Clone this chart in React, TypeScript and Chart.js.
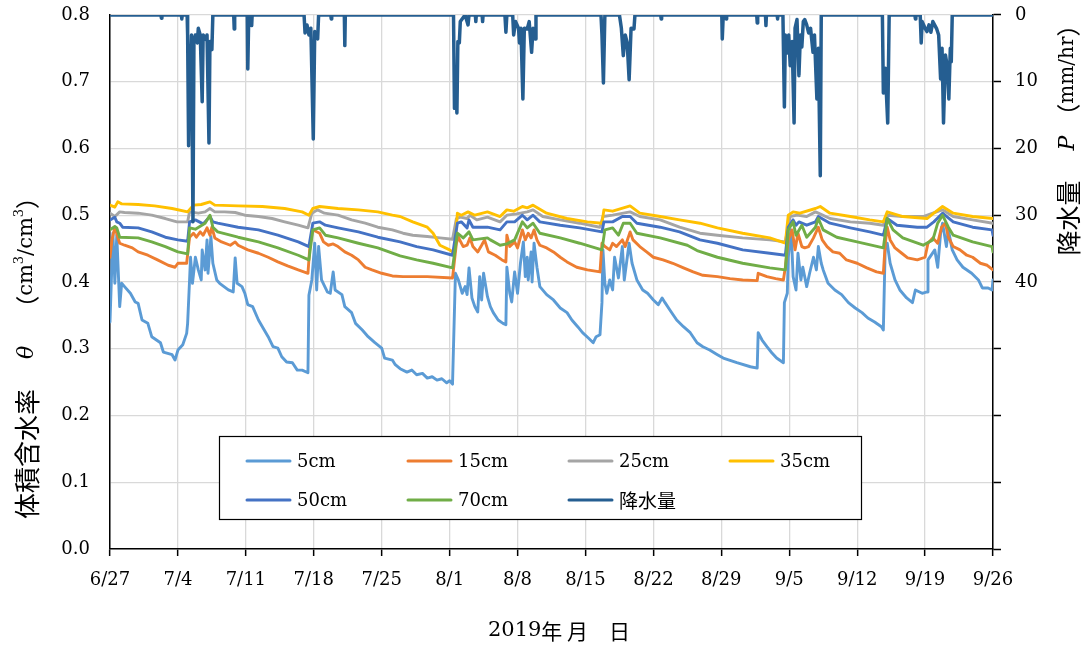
import React, { useEffect, useRef } from "react";
import { Chart, registerables } from "chart.js";
Chart.register(...registerables);

// Day 0 = 2019/6/27
const dateLabels = ["6/27", "7/4", "7/11", "7/18", "7/25", "8/1", "8/8", "8/15", "8/22", "8/29", "9/5", "9/12", "9/19", "9/26"];

const s5cm: [number, number][] = [
  [0, 0.340], [0.3, 0.473], [0.5, 0.398], [0.7, 0.470], [1.0, 0.363], [1.2, 0.398], [1.5, 0.393], [2.1, 0.383], [2.6, 0.370], [2.9, 0.368],
  [3.3, 0.343], [3.9, 0.338], [4.3, 0.318], [5.2, 0.309], [5.5, 0.295], [6.4, 0.291], [6.7, 0.283], [7.0, 0.298], [7.5, 0.306], [7.9, 0.323],
  [8.0, 0.338], [8.2, 0.403], [8.3, 0.437], [8.5, 0.398], [8.8, 0.437], [9.1, 0.418], [9.4, 0.403], [9.5, 0.448], [9.8, 0.418], [10.0, 0.463],
  [10.1, 0.413], [10.4, 0.468], [10.6, 0.428], [11.0, 0.403], [11.3, 0.398], [12.2, 0.388], [12.7, 0.385], [12.9, 0.436], [13.1, 0.398], [13.6, 0.393],
  [13.9, 0.383], [14.2, 0.366], [14.7, 0.363], [15.3, 0.343], [15.7, 0.333], [16.3, 0.318], [16.8, 0.303], [17.3, 0.301], [17.7, 0.288], [18.2, 0.280],
  [18.8, 0.279], [19.3, 0.268], [19.8, 0.268], [20.4, 0.264], [20.5, 0.380], [20.8, 0.403], [21.1, 0.458], [21.3, 0.388], [21.5, 0.453], [21.8, 0.403],
  [22.4, 0.385], [22.7, 0.383], [23.0, 0.415], [23.2, 0.388], [23.9, 0.381], [24.2, 0.363], [24.9, 0.354], [25.3, 0.338], [26.0, 0.328], [26.6, 0.318],
  [27.3, 0.309], [28.0, 0.301], [28.3, 0.286], [29.1, 0.283], [29.4, 0.276], [29.9, 0.270], [30.6, 0.265], [31.1, 0.268], [31.6, 0.261], [32.2, 0.263],
  [32.7, 0.256], [33.2, 0.258], [33.7, 0.253], [34.2, 0.255], [34.7, 0.249], [35.0, 0.252], [35.3, 0.247], [35.6, 0.413], [35.9, 0.403], [36.3, 0.383],
  [36.6, 0.393], [36.8, 0.381], [37.0, 0.421], [37.3, 0.376], [37.6, 0.363], [37.9, 0.355], [38.1, 0.408], [38.3, 0.373], [38.5, 0.413], [38.9, 0.378],
  [39.2, 0.363], [39.5, 0.354], [40.0, 0.343], [40.5, 0.338], [40.8, 0.336], [40.9, 0.422], [41.2, 0.383], [41.4, 0.370], [41.7, 0.415], [42.0, 0.383],
  [42.3, 0.428], [42.6, 0.460], [42.8, 0.408], [43.0, 0.437], [43.1, 0.403], [43.4, 0.445], [43.5, 0.400], [43.7, 0.458], [44.0, 0.422], [44.3, 0.393],
  [45.0, 0.381], [45.7, 0.373], [46.4, 0.361], [47.1, 0.354], [47.6, 0.343], [48.2, 0.333], [48.7, 0.324], [49.3, 0.316], [49.8, 0.309], [50.1, 0.318],
  [50.5, 0.321], [50.7, 0.369], [50.8, 0.448], [51.0, 0.398], [51.2, 0.383], [51.5, 0.403], [51.8, 0.388], [52.0, 0.437], [52.4, 0.406], [52.8, 0.453],
  [53.0, 0.403], [53.5, 0.458], [53.8, 0.428], [54.3, 0.403], [54.9, 0.388], [55.4, 0.383], [56.0, 0.373], [56.5, 0.366], [56.9, 0.376], [57.2, 0.369],
  [57.7, 0.358], [58.4, 0.343], [59.1, 0.333], [59.8, 0.324], [60.5, 0.309], [61.1, 0.303], [61.8, 0.298], [62.6, 0.291], [63.2, 0.286], [64.6, 0.279],
  [66.0, 0.273], [66.7, 0.271], [66.8, 0.324], [67.2, 0.313], [67.7, 0.303], [68.2, 0.294], [68.7, 0.286], [69.4, 0.279], [69.5, 0.369], [69.8, 0.383],
  [69.9, 0.437], [70.2, 0.478], [70.4, 0.408], [70.7, 0.388], [70.9, 0.443], [71.2, 0.403], [71.4, 0.422], [71.8, 0.393], [72.1, 0.413], [72.5, 0.437],
  [72.8, 0.418], [73.0, 0.453], [73.3, 0.428], [73.5, 0.418], [74.0, 0.398], [74.7, 0.388], [75.4, 0.381], [76.1, 0.369], [76.8, 0.361], [77.5, 0.354],
  [78.1, 0.346], [78.8, 0.340], [79.5, 0.333], [79.7, 0.328], [79.9, 0.458], [80.1, 0.458], [80.4, 0.428], [80.9, 0.403], [81.4, 0.388], [82.1, 0.376],
  [82.7, 0.369], [83.0, 0.388], [83.7, 0.383], [84.2, 0.385], [84.3, 0.433], [85.0, 0.448], [85.3, 0.422], [85.6, 0.473], [85.8, 0.488], [86.2, 0.453],
  [86.4, 0.478], [86.8, 0.448], [87.3, 0.433], [87.9, 0.422], [88.8, 0.413], [89.5, 0.403], [89.9, 0.391], [90.5, 0.391], [90.9, 0.388], [91.0, 0.403],
];

const s15cm: [number, number][] = [
  [0, 0.437], [0.2, 0.463], [0.5, 0.482], [0.8, 0.467], [1.0, 0.458], [1.5, 0.455], [2.3, 0.451], [2.9, 0.445], [3.9, 0.440], [4.9, 0.433],
  [6.0, 0.425], [6.7, 0.422], [7.0, 0.428], [7.9, 0.428], [8.2, 0.467], [8.6, 0.473], [8.9, 0.467], [9.3, 0.475], [9.6, 0.470], [10.0, 0.481],
  [10.3, 0.470], [10.5, 0.482], [10.8, 0.466], [11.5, 0.460], [12.4, 0.455], [12.9, 0.460], [13.2, 0.455], [14.2, 0.448], [15.3, 0.443], [16.3, 0.437],
  [17.3, 0.430], [18.3, 0.424], [19.4, 0.418], [20.4, 0.413], [20.6, 0.453], [20.9, 0.478], [21.2, 0.476], [21.6, 0.473], [22.0, 0.460], [22.5, 0.455],
  [23.0, 0.457], [23.5, 0.453], [24.2, 0.445], [24.9, 0.440], [25.6, 0.433], [26.3, 0.422], [27.0, 0.418], [28.0, 0.413], [29.1, 0.409], [30.2, 0.408],
  [32.7, 0.408], [35.3, 0.406], [35.7, 0.458], [35.9, 0.467], [36.4, 0.453], [36.8, 0.455], [37.1, 0.466], [37.4, 0.453], [37.9, 0.445], [38.3, 0.455],
  [38.6, 0.463], [39.0, 0.445], [39.7, 0.440], [40.4, 0.433], [40.8, 0.430], [40.9, 0.470], [41.2, 0.453], [41.7, 0.460], [42.0, 0.451], [42.5, 0.478],
  [42.8, 0.463], [43.1, 0.473], [43.4, 0.466], [43.7, 0.478], [44.0, 0.463], [44.3, 0.455], [45.0, 0.451], [45.7, 0.445], [46.4, 0.437], [47.1, 0.430],
  [48.1, 0.422], [49.2, 0.418], [50.5, 0.415], [50.7, 0.458], [51.0, 0.453], [51.5, 0.448], [51.8, 0.458], [52.2, 0.453], [52.8, 0.463], [53.1, 0.453],
  [53.6, 0.475], [53.9, 0.463], [54.6, 0.453], [55.3, 0.445], [56.0, 0.437], [57.0, 0.433], [58.0, 0.428], [59.1, 0.421], [60.1, 0.415], [61.1, 0.410],
  [62.6, 0.408], [63.9, 0.405], [65.2, 0.403], [66.7, 0.402], [66.8, 0.413], [67.7, 0.408], [68.6, 0.405], [69.4, 0.403], [69.6, 0.422], [69.9, 0.463],
  [70.3, 0.478], [70.6, 0.448], [70.9, 0.473], [71.3, 0.453], [71.6, 0.451], [72.0, 0.453], [72.5, 0.466], [73.0, 0.482], [73.4, 0.463], [73.9, 0.453],
  [74.5, 0.445], [75.2, 0.443], [75.9, 0.433], [77.0, 0.428], [78.0, 0.421], [79.0, 0.415], [79.7, 0.413], [79.9, 0.458], [80.1, 0.482], [80.4, 0.463],
  [80.9, 0.451], [81.6, 0.443], [82.2, 0.436], [83.2, 0.433], [84.0, 0.437], [84.3, 0.458], [84.8, 0.466], [85.3, 0.458], [85.7, 0.482], [86.1, 0.488],
  [86.4, 0.467], [86.9, 0.453], [87.6, 0.448], [88.3, 0.440], [88.9, 0.437], [89.7, 0.428], [90.4, 0.425], [91.0, 0.418],
];

const s25cm: [number, number][] = [
  [0, 0.503], [0.5, 0.498], [1.0, 0.505], [1.5, 0.504], [2.9, 0.503], [4.3, 0.500], [5.7, 0.495], [6.9, 0.490], [8.0, 0.490], [8.2, 0.505],
  [9.1, 0.503], [9.8, 0.505], [10.3, 0.510], [10.8, 0.505], [11.8, 0.505], [12.9, 0.504], [13.9, 0.500], [15.3, 0.498], [16.7, 0.495], [18.0, 0.490],
  [19.4, 0.485], [20.4, 0.481], [20.8, 0.503], [21.4, 0.508], [22.1, 0.503], [23.5, 0.500], [24.9, 0.493], [26.3, 0.488], [27.6, 0.482], [29.1, 0.478],
  [30.2, 0.473], [31.2, 0.470], [32.7, 0.468], [34.0, 0.466], [35.3, 0.464], [35.7, 0.495], [36.1, 0.497], [36.8, 0.495], [37.1, 0.500], [37.8, 0.493],
  [38.9, 0.497], [40.2, 0.490], [40.9, 0.500], [41.9, 0.502], [43.0, 0.505], [43.6, 0.508], [44.6, 0.498], [46.4, 0.493], [48.4, 0.488], [50.5, 0.482],
  [50.8, 0.498], [51.8, 0.500], [53.6, 0.505], [54.6, 0.498], [56.7, 0.493], [58.7, 0.482], [60.8, 0.473], [62.6, 0.470], [65.2, 0.466], [68.0, 0.463],
  [69.6, 0.460], [70.1, 0.498], [70.8, 0.500], [71.8, 0.498], [72.7, 0.505], [73.0, 0.503], [74.2, 0.495], [76.3, 0.490], [78.3, 0.488], [79.7, 0.485],
  [80.1, 0.500], [81.7, 0.498], [83.8, 0.498], [84.8, 0.503], [85.8, 0.508], [86.9, 0.498], [88.9, 0.493], [91.0, 0.488],
];

const s35cm: [number, number][] = [
  [0, 0.515], [0.5, 0.512], [0.8, 0.520], [1.2, 0.517], [2.9, 0.516], [4.6, 0.514], [6.4, 0.510], [8.0, 0.505], [8.6, 0.515], [9.4, 0.516],
  [10.3, 0.520], [10.8, 0.515], [13.2, 0.514], [15.7, 0.513], [18.0, 0.510], [19.8, 0.505], [20.5, 0.500], [20.9, 0.510], [21.6, 0.513], [23.5, 0.510],
  [25.6, 0.508], [27.6, 0.505], [29.1, 0.500], [29.9, 0.498], [31.2, 0.490], [32.7, 0.482], [33.3, 0.473], [34.0, 0.455], [35.0, 0.448], [35.5, 0.443],
  [35.8, 0.503], [36.2, 0.500], [36.9, 0.505], [37.6, 0.500], [38.9, 0.505], [40.2, 0.498], [40.9, 0.508], [41.6, 0.506], [42.5, 0.513], [43.0, 0.511],
  [43.6, 0.515], [45.0, 0.503], [47.1, 0.495], [49.2, 0.490], [50.7, 0.488], [50.9, 0.508], [51.8, 0.506], [53.6, 0.514], [54.6, 0.503], [56.7, 0.498],
  [58.7, 0.493], [60.8, 0.488], [62.6, 0.481], [65.2, 0.473], [68.0, 0.466], [69.6, 0.458], [69.9, 0.500], [70.4, 0.505], [71.1, 0.503], [72.7, 0.510],
  [73.2, 0.513], [74.2, 0.503], [76.3, 0.498], [78.3, 0.493], [79.7, 0.490], [80.1, 0.505], [81.7, 0.498], [84.2, 0.495], [84.9, 0.503], [85.8, 0.513],
  [86.9, 0.503], [88.9, 0.498], [91.0, 0.495],
];

const s50cm: [number, number][] = [
  [0, 0.493], [0.5, 0.497], [0.7, 0.490], [1.0, 0.488], [1.3, 0.482], [2.9, 0.481], [4.3, 0.475], [5.7, 0.467], [7.0, 0.463], [8.0, 0.461],
  [8.2, 0.490], [8.8, 0.493], [9.6, 0.487], [10.3, 0.498], [10.6, 0.490], [11.1, 0.488], [13.2, 0.482], [15.3, 0.478], [17.3, 0.470], [19.4, 0.460],
  [20.5, 0.453], [20.9, 0.488], [21.6, 0.490], [22.2, 0.485], [23.5, 0.481], [25.6, 0.475], [27.6, 0.467], [29.9, 0.460], [31.6, 0.453], [33.3, 0.448],
  [35.3, 0.440], [35.8, 0.488], [36.2, 0.490], [36.8, 0.481], [37.0, 0.493], [37.4, 0.482], [38.9, 0.482], [40.2, 0.478], [40.9, 0.490], [41.7, 0.490],
  [42.5, 0.500], [43.0, 0.493], [43.6, 0.500], [44.3, 0.490], [46.4, 0.485], [48.4, 0.481], [50.7, 0.475], [50.9, 0.490], [51.8, 0.490], [52.8, 0.498],
  [53.6, 0.498], [54.3, 0.488], [56.7, 0.482], [58.7, 0.475], [60.8, 0.463], [62.6, 0.458], [65.2, 0.448], [68.0, 0.443], [69.6, 0.440], [69.9, 0.482],
  [70.4, 0.493], [70.7, 0.485], [71.0, 0.490], [71.8, 0.485], [72.7, 0.490], [73.0, 0.498], [74.2, 0.488], [76.3, 0.481], [78.3, 0.475], [79.7, 0.470],
  [80.1, 0.495], [81.1, 0.485], [83.2, 0.482], [84.2, 0.482], [84.9, 0.490], [85.8, 0.503], [86.9, 0.490], [88.9, 0.482], [90.9, 0.478], [91.0, 0.470],
];

const s70cm: [number, number][] = [
  [0, 0.478], [0.5, 0.483], [0.7, 0.481], [1.0, 0.467], [2.9, 0.466], [4.3, 0.460], [5.7, 0.453], [7.0, 0.445], [8.0, 0.442], [8.2, 0.481],
  [8.8, 0.479], [9.8, 0.488], [10.3, 0.500], [10.6, 0.482], [11.1, 0.475], [13.2, 0.467], [15.3, 0.460], [17.3, 0.451], [19.4, 0.440], [20.5, 0.433],
  [20.9, 0.478], [21.6, 0.481], [22.2, 0.470], [23.5, 0.466], [25.6, 0.458], [27.6, 0.451], [29.9, 0.439], [31.6, 0.433], [33.3, 0.428], [35.3, 0.421],
  [35.8, 0.473], [36.4, 0.466], [37.0, 0.475], [37.4, 0.463], [38.9, 0.466], [39.2, 0.463], [40.2, 0.455], [40.9, 0.457], [41.7, 0.463], [42.5, 0.490],
  [43.0, 0.481], [43.6, 0.488], [44.3, 0.473], [46.4, 0.466], [48.4, 0.458], [50.7, 0.448], [51.0, 0.478], [51.8, 0.481], [52.4, 0.470], [52.9, 0.488],
  [53.6, 0.488], [54.3, 0.473], [56.7, 0.466], [59.5, 0.455], [60.5, 0.447], [62.6, 0.437], [65.2, 0.428], [68.0, 0.421], [69.6, 0.418], [69.9, 0.478],
  [70.4, 0.490], [70.7, 0.470], [71.3, 0.485], [71.8, 0.467], [72.7, 0.482], [73.0, 0.495], [73.5, 0.478], [74.9, 0.467], [77.0, 0.460], [79.7, 0.451],
  [80.1, 0.495], [80.7, 0.478], [81.7, 0.466], [83.8, 0.455], [84.8, 0.463], [85.3, 0.488], [85.8, 0.500], [86.4, 0.482], [86.9, 0.470], [88.9, 0.460],
  [90.9, 0.453], [91.0, 0.445],
];

// Rainfall P (mm/hr), [day, mm]
const rain: [number, number][] = [
  [0, 0], [5.25, 0], [5.3, 0.5], [5.35, 0], [7.35, 0], [7.4, 0.6], [7.45, 0],
  [7.95, 0], [8.0, 3], [8.1, 19.6], [8.2, 5], [8.3, 8], [8.4, 3], [8.55, 31], [8.65, 4], [8.8, 3], [9.0, 4.2], [9.1, 2], [9.3, 3],
  [9.5, 13], [9.6, 3], [9.9, 3.7], [10.0, 3], [10.2, 19.2], [10.3, 4], [10.5, 5.2], [10.6, 0],
  [12.75, 0], [12.8, 2.1], [12.85, 0], [14.15, 0], [14.2, 8.1], [14.3, 0], [14.55, 0], [14.6, 1.6], [14.65, 0],
  [20.0, 0], [20.1, 2.7], [20.3, 1.5], [20.5, 3], [20.7, 2], [20.95, 18.6], [21.1, 2.5], [21.4, 3.6], [21.5, 0],
  [22.75, 0], [22.8, 0.6], [22.85, 0], [24.15, 0], [24.2, 4.6], [24.25, 0],
  [35.4, 0], [35.5, 14.0], [35.6, 8], [35.75, 14.7], [35.85, 4], [36.0, 4.2], [36.1, 1], [36.6, 0], [36.9, 1.5], [37.0, 0],
  [37.65, 0], [37.7, 1], [37.75, 0], [38.35, 0], [38.4, 1], [38.45, 0],
  [40.7, 0], [40.8, 2.6], [40.9, 0], [41.5, 0], [41.6, 3], [41.8, 1], [42.1, 2], [42.2, 4.2], [42.35, 2], [42.55, 12.6], [42.7, 2],
  [43.0, 2.1], [43.2, 1], [43.45, 5.6], [43.6, 2], [43.8, 3.6], [43.9, 0],
  [50.6, 0], [50.7, 3], [50.85, 10.2], [51.0, 0], [52.5, 0], [52.6, 1], [52.7, 2], [52.9, 6.1], [53.1, 3], [53.3, 4.2], [53.5, 9.7],
  [53.7, 2], [54.0, 2.1], [54.1, 0],
  [56.75, 0], [56.8, 0.6], [56.85, 0], [63.05, 0], [63.1, 3.6], [63.2, 0], [63.45, 0], [63.5, 0.6], [63.55, 0],
  [66.65, 0], [66.7, 1.2], [66.75, 0], [67.55, 0], [67.6, 1.6], [67.65, 0], [68.75, 0], [68.8, 0.6], [68.85, 0],
  [69.35, 0], [69.5, 13.8], [69.6, 3], [69.8, 5.7], [69.95, 3], [70.1, 7.6], [70.3, 4], [70.5, 16.2], [70.6, 2], [70.8, 0.7],
  [71.0, 9.1], [71.15, 3], [71.3, 4.8], [71.45, 1], [71.6, 0.7], [71.8, 1.5], [72.0, 2.7], [72.2, 2], [72.45, 5.6], [72.6, 3],
  [72.85, 12.6], [73.0, 5], [73.2, 24.1], [73.3, 0],
  [79.6, 0], [79.7, 11.7], [79.9, 8], [80.15, 16.2], [80.3, 0],
  [82.95, 0], [83.0, 0.6], [83.05, 0], [83.5, 0], [83.6, 4.2], [83.7, 1], [84.0, 2], [84.2, 2.5], [84.4, 1.5], [84.6, 2.6], [84.8, 1],
  [85.2, 2.1], [85.4, 3], [85.6, 9.6], [85.75, 5], [85.9, 16.2], [86.1, 6], [86.3, 7.8], [86.45, 12.6], [86.6, 5], [86.7, 7], [86.8, 0], [91, 0],
];

const seriesNames = ["5cm", "15cm", "25cm", "35cm", "50cm", "70cm", "降水量"];
const seriesColors = ["#5B9BD5", "#ED7D31", "#A5A5A5", "#FFC000", "#4472C4", "#70AD47", "#255E91"];

const LATIN = "'DejaVu Serif', serif";
const CJK = "'Noto Sans CJK JP', sans-serif";

type Seg = { t?: string; font?: string; gap?: number; dy?: number };

function drawSegs(ctx: CanvasRenderingContext2D, cx: number, cy: number, segs: Seg[], rotate: boolean) {
  ctx.save();
  ctx.translate(cx, cy);
  if (rotate) ctx.rotate(-Math.PI / 2);
  ctx.textBaseline = "middle";
  ctx.textAlign = "left";
  ctx.fillStyle = "#000";
  let total = 0;
  for (const s of segs) {
    if (s.gap) total += s.gap;
    else { ctx.font = s.font!; total += ctx.measureText(s.t!).width; }
  }
  let x = -total / 2;
  for (const s of segs) {
    if (s.gap) { x += s.gap; continue; }
    ctx.font = s.font!;
    ctx.fillText(s.t!, x, s.dy || 0);
    x += ctx.measureText(s.t!).width;
  }
  ctx.restore();
}

const decorPlugin = {
  id: "decor",
  afterDraw(chart: any) {
    const ctx: CanvasRenderingContext2D = chart.ctx;
    const sup = `13px ${LATIN}`;
    // left axis title
    drawSegs(ctx, 27, 352, [
      { t: "体積含水率", font: `26px ${CJK}` },
      { gap: 30 },
      { t: "θ", font: `italic 22px ${LATIN}` },
      { gap: 26 },
      { t: "（", font: `24px ${CJK}` },
      { t: "cm", font: `21px ${LATIN}` },
      { t: "3", font: sup, dy: -7 },
      { t: "/cm", font: `21px ${LATIN}` },
      { t: "3", font: sup, dy: -7 },
      { t: "）", font: `24px ${CJK}` },
    ], true);
    // right axis title
    drawSegs(ctx, 1068, 134, [
      { t: "降水量", font: `25px ${CJK}` },
      { gap: 30 },
      { t: "P", font: `italic 22px ${LATIN}` },
      { gap: 8 },
      { t: "（", font: `24px ${CJK}` },
      { t: "mm/hr", font: `20px ${LATIN}` },
      { t: "）", font: `24px ${CJK}` },
    ], true);
    // x axis title
    drawSegs(ctx, 559, 631, [
      { t: "2019", font: `21px ${LATIN}` },
      { t: "年 月　日", font: `21px ${CJK}` },
    ], false);

    // legend
    ctx.save();
    ctx.fillStyle = "#fff";
    ctx.fillRect(219, 436, 643, 84);
    ctx.strokeStyle = "#000";
    ctx.lineWidth = 1.2;
    ctx.strokeRect(219.5, 436.5, 642, 83);
    const colX = [247, 408, 569, 730];
    const rowY = [461, 500];
    const ds = chart.data.datasets;
    ds.forEach((d: any, i: number) => {
      const x = colX[i % 4];
      const y = rowY[Math.floor(i / 4)];
      ctx.strokeStyle = d.borderColor;
      ctx.lineWidth = 3;
      ctx.lineCap = "round";
      ctx.beginPath();
      ctx.moveTo(x, y);
      ctx.lineTo(x + 43, y);
      ctx.stroke();
      ctx.fillStyle = "#000";
      ctx.textBaseline = "middle";
      ctx.textAlign = "left";
      const isCjk = /[^\x00-\x7F]/.test(d.label);
      ctx.font = isCjk ? `19px ${CJK}` : `18px ${LATIN}`;
      ctx.fillText(d.label, x + 50, y + 1);
    });
    ctx.restore();
  },
};

export default function App() {
  const ref = useRef<HTMLCanvasElement | null>(null);
  useEffect(() => {
    document.body.style.margin = "0";
    const canvas = ref.current!;
    const toPts = (a: [number, number][]) => a.map(([x, y]) => ({ x, y }));
    const soil = [s5cm, s15cm, s25cm, s35cm, s50cm, s70cm];
    const datasets: any[] = soil.map((s, i) => ({
      label: seriesNames[i],
      data: toPts(s),
      borderColor: seriesColors[i],
      backgroundColor: seriesColors[i],
      borderWidth: 2.9,
      pointRadius: 0,
      tension: 0,
      borderJoinStyle: "round",
      borderCapStyle: "round",
      yAxisID: "y",
      order: 6 - i,
    }));
    datasets.push({
      label: seriesNames[6],
      data: toPts(rain),
      borderColor: seriesColors[6],
      backgroundColor: seriesColors[6],
      borderWidth: 3.5,
      pointRadius: 0,
      tension: 0,
      borderJoinStyle: "round",
      borderCapStyle: "round",
      yAxisID: "y2",
      order: 0,
    });
    const xTickFont = { family: LATIN, size: 18 };
    const yTickFont = { family: LATIN, size: 18, lineHeight: 0.1 };
    const chart = new Chart(canvas, {
      type: "line",
      data: { datasets },
      options: {
        animation: false,
        responsive: false,
        devicePixelRatio: 1,
        layout: { padding: { top: 0, left: 0, right: 0, bottom: 0 } },
        plugins: { legend: { display: false }, tooltip: { enabled: false } },
        scales: {
          x: {
            type: "linear",
            min: 0,
            max: 91,
            afterFit: (s: any) => { s.height = 99; },
            ticks: {
              stepSize: 7,
              autoSkip: false,
              maxRotation: 0,
              padding: 14,
              color: "#000",
              font: xTickFont,
              callback: (v: any) => dateLabels[Math.round(Number(v) / 7)] ?? "",
            },
            grid: { color: "#D9D9D9", lineWidth: 1.3, tickColor: "#000", tickLength: 7, tickWidth: 1.5 },
            border: { color: "#000", width: 1.5 },
          },
          y: {
            position: "left",
            min: 0,
            max: 0.8,
            afterFit: (s: any) => { s.width = 110; },
            ticks: {
              stepSize: 0.1,
              padding: 4,
              color: "#000",
              font: yTickFont,
              callback: (v: any) => Number(v).toFixed(1),
            },
            grid: { color: "#D9D9D9", lineWidth: 1.3, drawTicks: true, tickLength: 16, tickColor: "rgba(0,0,0,0)" },
            border: { color: "#000", width: 1.5 },
          },
          y2: {
            position: "right",
            min: 0,
            max: 80,
            reverse: true,
            afterFit: (s: any) => { s.width = 90; },
            ticks: {
              stepSize: 10,
              padding: 14,
              color: "#000",
              font: yTickFont,
              callback: (v: any) => (Number(v) <= 40 ? String(v) : ""),
            },
            grid: { drawOnChartArea: false, color: "#000", tickColor: "#000", tickLength: 8, tickWidth: 1.5 },
            border: { color: "#000", width: 1.5 },
          },
        },
      },
      plugins: [decorPlugin],
    });
    return () => chart.destroy();
  }, []);
  return (
    <div style={{ position: "absolute", left: 0, top: 0, width: 1083, height: 648, background: "#fff" }}>
      <canvas ref={ref} width={1083} height={648} style={{ width: 1083, height: 648, display: "block" }} />
    </div>
  );
}
